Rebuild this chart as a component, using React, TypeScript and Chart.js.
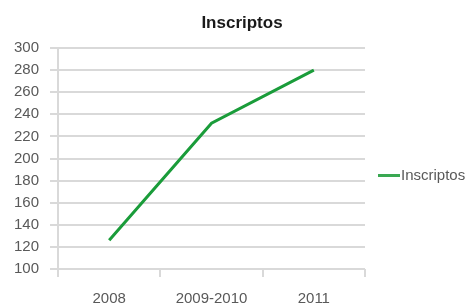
import React, { useEffect, useRef } from "react";
import { Chart, registerables } from "chart.js";

Chart.register(...registerables);

const categories = ["2008", "2009-2010", "2011"];
const inscriptos = [126, 232, 280];
const seriesLabel = "Inscriptos";
const chartTitle = "Inscriptos";

const lineColor = "#1a9c3a";
const gridColor = "#d9d9d9";
const textColor = "#595959";
const fontFamily = "'Liberation Sans', Arial, sans-serif";

const decorations = {
  id: "decorations",
  afterDraw(chart: any) {
    const ctx = chart.ctx;
    const ds = chart.data.datasets[0];
    const area = chart.chartArea;
    ctx.save();
    // title
    ctx.fillStyle = "#1a1a1a";
    ctx.font = `bold 17px ${fontFamily}`;
    ctx.textAlign = "center";
    ctx.textBaseline = "middle";
    ctx.fillText(chartTitle, 242, 23);
    // legend
    const x0 = area.right + 13;
    const y = (area.top + area.bottom) / 2 + 17;
    ctx.strokeStyle = "#3aa852";
    ctx.lineWidth = 3;
    ctx.beginPath();
    ctx.moveTo(x0, y);
    ctx.lineTo(x0 + 22, y);
    ctx.stroke();
    ctx.fillStyle = textColor;
    ctx.font = `15px ${fontFamily}`;
    ctx.textAlign = "left";
    ctx.fillText(ds.label, x0 + 23, y);
    ctx.restore();
  },
};

export default function App() {
  const ref = useRef<HTMLCanvasElement | null>(null);
  useEffect(() => {
    if (!ref.current) return;
    const chart = new Chart(ref.current, {
      type: "line",
      data: {
        labels: categories,
        datasets: [
          {
            label: seriesLabel,
            data: inscriptos,
            borderColor: lineColor,
            backgroundColor: lineColor,
            borderWidth: 3,
            pointRadius: 0,
            tension: 0,
          },
        ],
      },
      options: {
        animation: false,
        responsive: false,
        layout: { padding: { left: 3, right: 111, top: 48, bottom: -17 } },
        plugins: {
          legend: { display: false },
          tooltip: { enabled: false },
          title: { display: false },
        },
        scales: {
          x: {
            offset: true,
            grid: {
              display: true,
              offset: true,
              drawOnChartArea: false,
              drawTicks: true,
              tickLength: 8,
              color: gridColor,
              lineWidth: 2,
            },
            border: { display: false },
            ticks: {
              color: textColor,
              padding: 13,
              font: { family: fontFamily, size: 15 },
              maxRotation: 0,
            },
          },
          y: {
            min: 100,
            max: 300,
            grid: {
              color: gridColor,
              lineWidth: 2,
              drawTicks: true,
              tickLength: 8,
            },
            border: { display: true, color: gridColor, width: 2 },
            ticks: {
              stepSize: 20,
              color: textColor,
              padding: 11,
              font: { family: fontFamily, size: 15 },
            },
          },
        },
      },
      plugins: [decorations],
    });
    return () => chart.destroy();
  }, []);
  return (
    <div style={{ position: "fixed", left: 0, top: 0, width: 476, height: 304, background: "#fff" }}>
      <canvas ref={ref} width={476} height={304} style={{ width: 476, height: 304 }} />
    </div>
  );
}
